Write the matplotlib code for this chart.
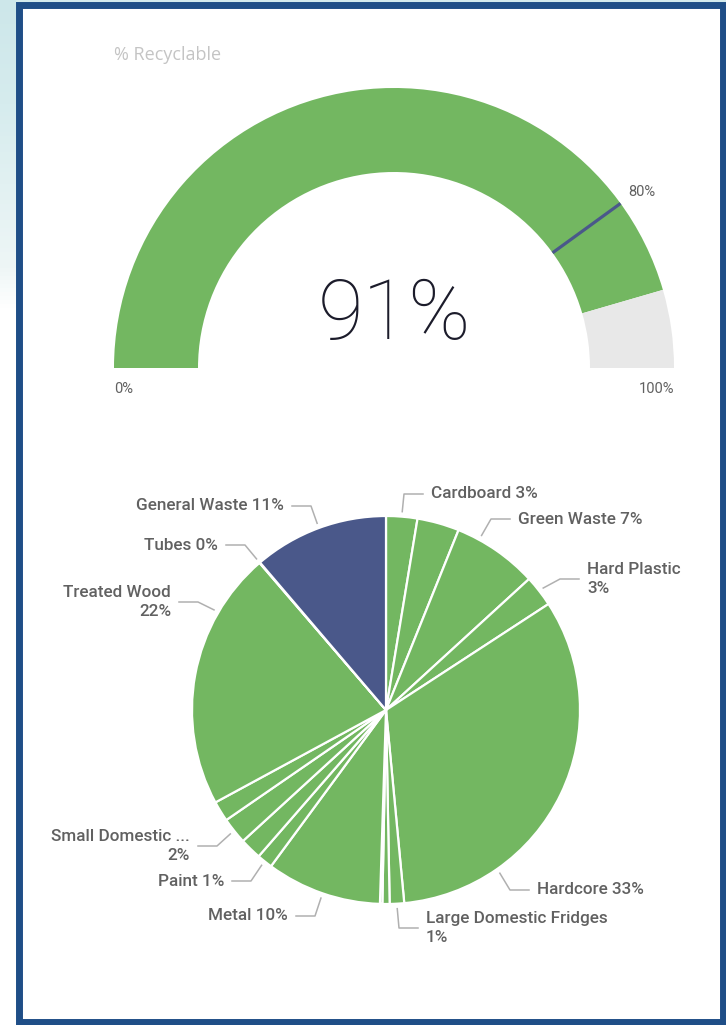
import matplotlib.pyplot as plt
from matplotlib.patches import Rectangle
from matplotlib.colors import LinearSegmentedColormap
import numpy as np

# gauge data
gauge_title = "% Recyclable"
gauge_value = 91
gauge_target = 80
gauge_min = 0
gauge_max = 100

# waste breakdown, clockwise from 12 o'clock
categories = ["Cardboard", "Mixed Plastic", "Green Waste", "Hard Plastic", "Hardcore",
              "Large Domestic Fridges", "Batteries", "Glass", "Metal", "Paint",
              "Plasterboard", "Small Domestic Appliances", "Textiles", "Treated Wood",
              "Tubes", "General Waste"]
shares = [2.6, 3.5, 7.1, 2.6, 32.7, 1.2, 0.6, 0.2, 9.6, 1.3, 1.8, 2.2, 1.7, 21.6, 0.05, 11.25]

labelled = ["Cardboard", "Green Waste", "Hard Plastic", "Hardcore", "Large Domestic Fridges",
            "Metal", "Paint", "Small Domestic Appliances", "Treated Wood", "Tubes", "General Waste"]

GREEN = "#73B761"
NAVY = "#4A588A"
GRAY = "#E8E8E8"
TXT = "#616161"
LEAD = "#B0B0B0"
W, H = 726, 1025


def Y(y):
    # pixel row -> data y
    return H - y


fig = plt.figure(figsize=(W / 100, H / 100), dpi=100, facecolor="#d3eaed")
ax = fig.add_axes([0, 0, 1, 1])

# gauge
gc = (394, Y(368))
R = 280
ax.pie([gauge_value - gauge_min, gauge_max - gauge_value, gauge_max - gauge_min],
       colors=[GREEN, GRAY, "none"], startangle=180, counterclock=False,
       radius=R, center=gc, wedgeprops=dict(width=84, linewidth=0))
t = np.radians(180 - 180 * (gauge_target - gauge_min) / (gauge_max - gauge_min))
ax.plot([gc[0] + (R - 84) * np.cos(t), gc[0] + R * np.cos(t)],
        [gc[1] + (R - 84) * np.sin(t), gc[1] + R * np.sin(t)],
        color=NAVY, lw=2.3, solid_capstyle="butt", zorder=5)
ax.text(gc[0] + R * np.cos(t) + 8, gc[1] + R * np.sin(t) + 11, f"{gauge_target}%",
        ha="left", va="center", fontsize=10.5, color=TXT, family="Roboto")
ax.text(gc[0] - R, gc[1] - 21, f"{gauge_min}%", ha="left", va="center",
        fontsize=10.5, color=TXT, family="Roboto")
ax.text(gc[0] + R, gc[1] - 21, f"{gauge_max}%", ha="right", va="center",
        fontsize=10.5, color=TXT, family="Roboto")
ax.text(gc[0], Y(316), f"{gauge_value}%", ha="center", va="center",
        fontsize=60, color="#1c1c2b", family="Roboto", fontweight="light")
ax.text(114, Y(55), gauge_title, ha="left", va="center", fontsize=13,
        color="#C4C4C4", family="Open Sans")

# pie
pc = (386, Y(710))
pr = 194
colors = [NAVY if c == "General Waste" else GREEN for c in categories]
wedges, _ = ax.pie(shares, colors=colors, startangle=90, counterclock=False,
                   radius=pr, center=pc,
                   wedgeprops=dict(edgecolor="white", linewidth=1.6))

total = sum(shares)
# label layout: text x, block centre y (pixels), side, wrap, shown name
layout = {
    "Cardboard": (431, 494, "left", False, "Cardboard"),
    "Green Waste": (518, 519, "left", False, "Green Waste"),
    "Hard Plastic": (587, 579, "left", True, "Hard Plastic"),
    "Hardcore": (537, 890, "left", False, "Hardcore"),
    "Large Domestic Fridges": (426, 928, "left", True, "Large Domestic Fridges"),
    "Metal": (288, 916, "right", False, "Metal"),
    "Paint": (224, 881, "right", False, "Paint"),
    "Small Domestic Appliances": (190, 846, "right", True, "Small Domestic ..."),
    "Treated Wood": (171, 602, "right", True, "Treated Wood"),
    "Tubes": (218, 545, "right", False, "Tubes"),
    "General Waste": (284, 506, "right", False, "General Waste"),
}
# leader start angle (clockwise from top) where it differs from slice middle
leader_angle = {"Green Waste": 28.7, "Hardcore": 145.1, "Treated Wood": 300.2}

for name in labelled:
    i = categories.index(name)
    w = wedges[i]
    tx, ty, side, wrap, shown = layout[name]
    pct = f"{100 * shares[i] / total:.0f}%"
    s = f"{shown}\n{pct}" if wrap else f"{shown} {pct}"
    if name in leader_angle:
        m = np.radians(90 - leader_angle[name])
    else:
        m = np.radians((w.theta1 + w.theta2) / 2)
    ax0 = pc[0] + 199 * np.cos(m)
    ay0 = pc[1] + 199 * np.sin(m)
    if side == "left":
        ex, hx = tx - 27, tx - 8
    else:
        ex, hx = tx + 27, tx + 8
    ax.plot([ax0, ex, hx], [ay0, Y(ty), Y(ty)], color=LEAD, lw=1.1, zorder=4)
    ax.text(tx, Y(ty), s, ha=side, va="center", multialignment=side,
            fontsize=12.3, color=TXT, family="Roboto", fontweight="medium",
            linespacing=1.4)

# background strip + frame
cmap = LinearSegmentedColormap.from_list(
    "bg", [(0, "#cde7ea"), (0.1, "#d6ecee"), (0.26, "#eef6f6"), (0.3, "#ffffff"), (1, "#ffffff")])
ax.imshow(np.linspace(0, 1, 256)[:, None], cmap=cmap, extent=(0, 16, 0, H),
          aspect="auto", zorder=0)
ax.add_patch(Rectangle((18.5, Y(1021.5)), 722.5 - 18.5, 1021.5 - 5,
                       facecolor="white", edgecolor="#1F4E87", linewidth=5, zorder=0.5))

ax.set_xlim(0, W)
ax.set_ylim(0, H)
ax.set_aspect("auto")
ax.axis("off")

fig.savefig("out.png", dpi=100, facecolor=fig.get_facecolor())
